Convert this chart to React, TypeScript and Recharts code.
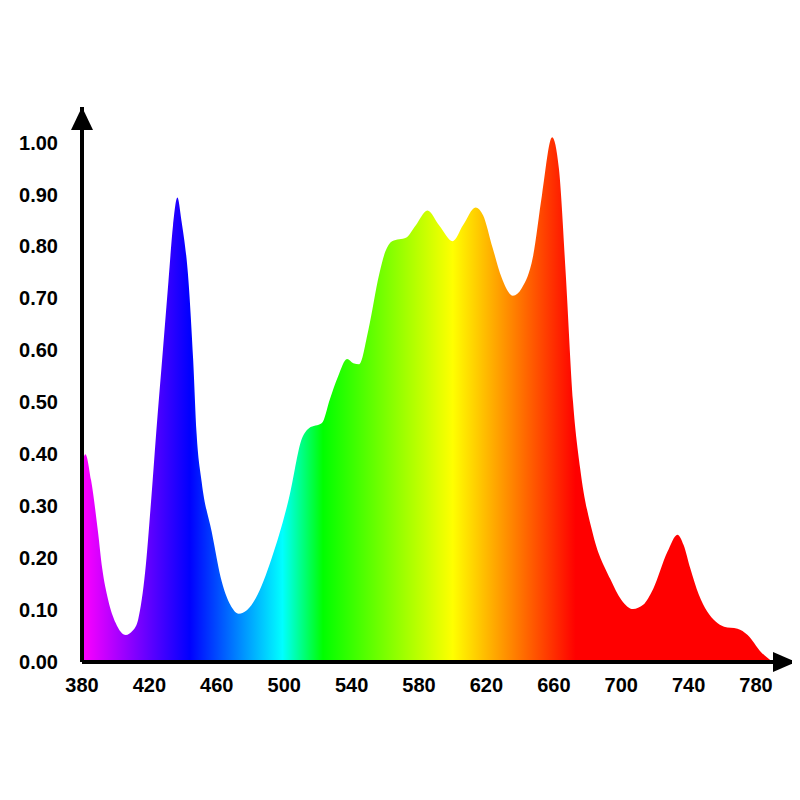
import React from "react";
import { AreaChart, Area, XAxis, YAxis, ReferenceDot } from "recharts";

const wavelengths = [
  380, 382, 385.4, 389.5, 392, 395.5, 400, 406, 410, 413.4, 417.5, 421, 424, 428, 431.3, 434, 436.6, 439, 443.2, 446, 448,
  451, 457, 463, 468, 473, 478, 483, 492.6, 502.8, 510.5, 514.7, 522.4, 527, 532, 537.3, 541, 544.5, 550, 556.4, 560, 564,
  572.5, 578, 585, 592, 600, 606, 613.6, 618, 623.7, 629, 635.7, 641, 647.6, 653, 659, 663, 667, 671.4, 675.6, 683.3, 693.5,
  700, 707, 713, 719, 727.4, 733.4, 737, 741, 746, 751, 756, 761, 769, 775, 783, 790,
];
const intensities = [
  0.38, 0.4, 0.35, 0.25, 0.18, 0.12, 0.075, 0.052, 0.06, 0.083, 0.174, 0.31, 0.44, 0.6, 0.733, 0.84, 0.894, 0.85, 0.733, 0.58, 0.44,
  0.347, 0.25, 0.154, 0.11, 0.093, 0.1, 0.122, 0.2, 0.315, 0.43, 0.45, 0.46, 0.505, 0.55, 0.583, 0.575, 0.573, 0.64, 0.747, 0.79, 0.81,
  0.817, 0.84, 0.869, 0.84, 0.81, 0.84, 0.875, 0.86, 0.797, 0.74, 0.705, 0.72, 0.78, 0.9, 1.01, 0.95, 0.75, 0.5, 0.373, 0.245, 0.16,
  0.12, 0.102, 0.11, 0.141, 0.212, 0.245, 0.225, 0.18, 0.13, 0.097, 0.078, 0.068, 0.064, 0.052, 0.019, 0,
];

const xTicks = [380, 420, 460, 500, 540, 580, 620, 660, 700, 740, 780];
const yTicks = [0, 0.1, 0.2, 0.3, 0.4, 0.5, 0.6, 0.7, 0.8, 0.9, 1.0];

const spectrumStops = [
  { nm: 380, color: "#ff00ff" },
  { nm: 444, color: "#0000ff" },
  { nm: 499, color: "#00ffff" },
  { nm: 523, color: "#00ff00" },
  { nm: 600, color: "#ffff00" },
  { nm: 673, color: "#ff0000" },
  { nm: 790, color: "#ff0000" },
];

const X_MIN = 380;
const X_MAX = 803.7;
const Y_MAX = 1.0683;

const data = wavelengths.map((w, i) => ({ w, v: intensities[i] }));

const tickStyle = {
  fontFamily: "'Liberation Sans', Arial, sans-serif",
  fontWeight: 700,
  fontSize: 20,
  fill: "#000",
};

const XArrow = (props: any) => {
  const { cx, cy } = props;
  return <path d={`M${cx},${cy} L${cx - 23},${cy - 10} L${cx - 23},${cy + 10} Z`} fill="#000" />;
};
const YArrow = (props: any) => {
  const { cx, cy } = props;
  return <path d={`M${cx},${cy} L${cx - 11},${cy + 23} L${cx + 11},${cy + 23} Z`} fill="#000" />;
};

const wMin = wavelengths[0];
const wMax = wavelengths[wavelengths.length - 1];

export default function App() {
  return (
    <AreaChart width={800} height={800} data={data} margin={{ top: 99, right: 12, bottom: 116, left: 0 }}>
      <defs>
        <linearGradient id="spec" x1="0" y1="0" x2="1" y2="0">
          {spectrumStops.map((s) => (
            <stop key={s.nm} offset={(s.nm - wMin) / (wMax - wMin)} stopColor={s.color} />
          ))}
        </linearGradient>
      </defs>
      <XAxis
        dataKey="w"
        type="number"
        domain={[X_MIN, X_MAX]}
        ticks={xTicks}
        allowDataOverflow
        height={30}
        tickLine={false}
        tickSize={0}
        tickMargin={16}
        axisLine={{ stroke: "#000", strokeWidth: 4 }}
        tick={tickStyle}
        interval={0}
      />
      <YAxis
        type="number"
        domain={[0, Y_MAX]}
        ticks={yTicks}
        allowDataOverflow
        width={74}
        tickLine={false}
        tickSize={0}
        tickMargin={24}
        axisLine={{ stroke: "#000", strokeWidth: 4 }}
        tick={tickStyle}
        tickFormatter={(v: number) => v.toFixed(2)}
        interval={0}
      />
      <Area
        type="monotone"
        dataKey="v"
        stroke="none"
        fill="url(#spec)"
        fillOpacity={1}
        isAnimationActive={false}
        dot={false}
        activeDot={false}
        baseValue={0}
      />
      <ReferenceDot x={X_MAX} y={0} r={0} ifOverflow="visible" shape={XArrow} />
      <ReferenceDot x={X_MIN} y={Y_MAX} r={0} ifOverflow="visible" shape={YArrow} />
    </AreaChart>
  );
}
